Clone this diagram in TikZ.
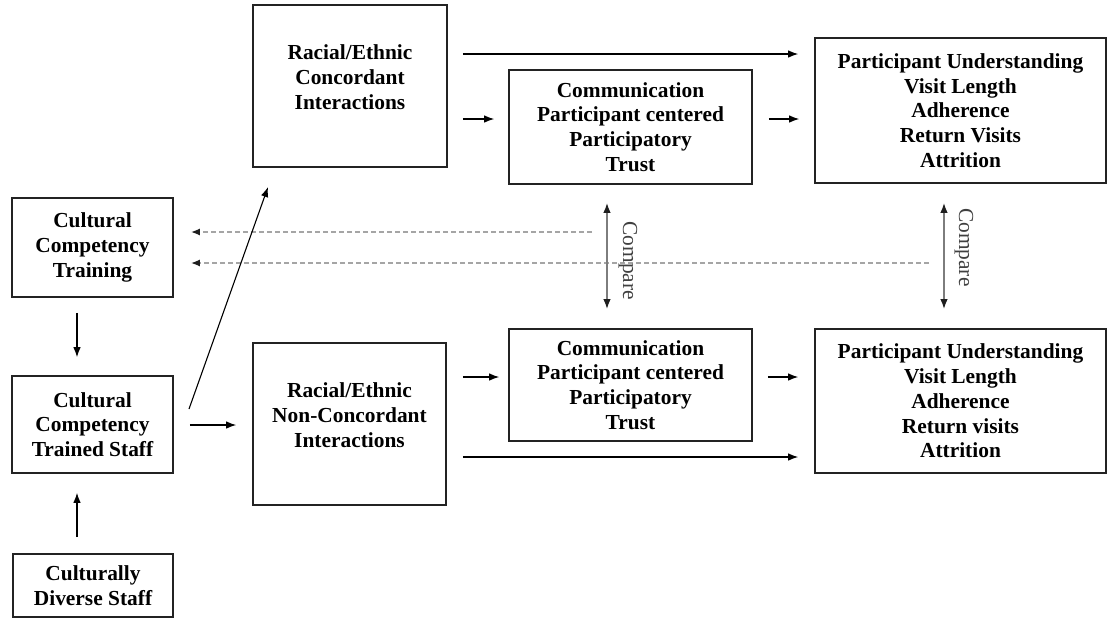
\documentclass[tikz,border=0pt]{standalone}
\usepackage{fontspec}
\setmainfont{Liberation Serif}
\usetikzlibrary{arrows.meta}
\definecolor{boxline}{RGB}{35,35,35}
\definecolor{cmpgray}{RGB}{125,125,125}
\definecolor{dashgray}{RGB}{165,165,165}
\definecolor{tipgray}{RGB}{30,30,30}
\tikzset{
  box/.style={draw=boxline, line width=1.7pt, inner sep=0pt, align=center,
    font=\fontsize{21.4}{24.8}\selectfont\bfseries},
  txt/.style={align=center, inner sep=0pt, font=\fontsize{21.4}{24.8}\selectfont\bfseries},
  arr/.style={draw=black, line width=1.1pt, -{Latex[length=10pt,width=7.5pt]}},
  cmparr/.style={draw=cmpgray, line width=1.6pt,
    {Latex[length=10pt,width=7.5pt,color=tipgray]}-{Latex[length=10pt,width=7.5pt,color=tipgray]}},
  dasharr/.style={draw=dashgray, line width=1.6pt, dash pattern=on 5pt off 3pt,
    -{Latex[length=9pt,width=7pt,color=tipgray]}},
  cmptxt/.style={rotate=-90, anchor=base, inner sep=0pt, text=black!75,
    font=\fontsize{21.4}{24}\selectfont},
}
\begin{document}
\begin{tikzpicture}[x=1pt,y=-1pt]
\useasboundingbox (0,0) rectangle (1109,619);

% boxes
\node[box, minimum width=194pt, minimum height=162pt] (conc) at (350,86) {};
\node[txt] (conct) at (350,77) {Racial/Ethnic\\Concordant\\Interactions};
\node[box, minimum width=243pt, minimum height=114pt] (comm1) at (630.5,127)
  {Communication\\Participant centered\\Participatory\\Trust};
\node[box, minimum width=291pt, minimum height=145pt] (out1) at (960.5,110.5)
  {Participant Understanding\\Visit Length\\Adherence\\Return Visits\\Attrition};
\node[box, minimum width=161pt, minimum height=99pt] (train) at (92.5,247.5)
  {Cultural\\Competency\\Training};
\node[box, minimum width=161pt, minimum height=97pt] (staff) at (92.5,424.5)
  {Cultural\\Competency\\Trained Staff};
\node[box, minimum width=160pt, minimum height=63pt] (div) at (93,585.5)
  {Culturally\\Diverse Staff};
\node[box, minimum width=193pt, minimum height=162pt] (nonc) at (349.5,424) {};
\node[txt] (nonct) at (349.5,415) {Racial/Ethnic\\Non-Concordant\\Interactions};
\node[box, minimum width=243pt, minimum height=112pt] (comm2) at (630.5,385)
  {Communication\\Participant centered\\Participatory\\Trust};
\node[box, minimum width=291pt, minimum height=144pt] (out2) at (960.5,401)
  {Participant Understanding\\Visit Length\\Adherence\\Return visits\\Attrition};

% helper coordinates
\coordinate (h54) at (0,54);
\coordinate (h119) at (0,119);
\coordinate (h377) at (0,377);
\coordinate (h457) at (0,457);
\coordinate (h425) at (0,425);
\coordinate (v77) at (77,0);
\coordinate (v607) at (607,0);
\coordinate (v944) at (944,0);
\coordinate (vt1) at (623,0);
\coordinate (vt2) at (959,0);
\coordinate (d1) at (189,409);
\coordinate (d2) at (268,187);
\coordinate (ds1) at (592,232);
\coordinate (ds2) at (929,263);

% dashed feedback arrows
\draw[dasharr, shorten >=17pt] (ds1) -- (train.east |- ds1);
\draw[dasharr, shorten >=17pt] (ds2) -- (train.east |- ds2);

% main arrows
\draw[arr, shorten <=15pt, shorten >=16pt] (conc.east |- h54) -- (out1.west |- h54);
\draw[arr, shorten <=15pt, shorten >=14pt] (conc.east |- h119) -- (comm1.west |- h119);
\draw[arr, shorten <=16pt, shorten >=15pt] (comm1.east |- h119) -- (out1.west |- h119);
\draw[arr, shorten <=16pt, shorten >=9pt] (nonc.east |- h377) -- (comm2.west |- h377);
\draw[arr, shorten <=15pt, shorten >=16pt] (comm2.east |- h377) -- (out2.west |- h377);
\draw[arr, shorten <=16pt, shorten >=16pt] (nonc.east |- h457) -- (out2.west |- h457);
\draw[arr, shorten <=16pt, shorten >=16pt] (staff.east |- h425) -- (nonc.west |- h425);
\draw[arr] (d1) -- (d2);
\draw[arr, shorten <=15pt, shorten >=18pt] (train.south -| v77) -- (staff.north -| v77);
\draw[arr, shorten <=16pt, shorten >=19pt] (div.north -| v77) -- (staff.south -| v77);

% compare arrows
\draw[cmparr, shorten <=18pt, shorten >=19pt] (comm1.south -| v607) -- (comm2.north -| v607);
\draw[cmparr, shorten <=19pt, shorten >=19pt] (out1.south -| v944) -- (out2.north -| v944);
\path (comm1.south -| vt1) -- (comm2.north -| vt1) node[cmptxt, pos=0.53] (cmp1) {Compare};
\path (out1.south -| vt2) -- (out2.north -| vt2) node[cmptxt, pos=0.44] (cmp2) {Compare};
\end{tikzpicture}
\end{document}
